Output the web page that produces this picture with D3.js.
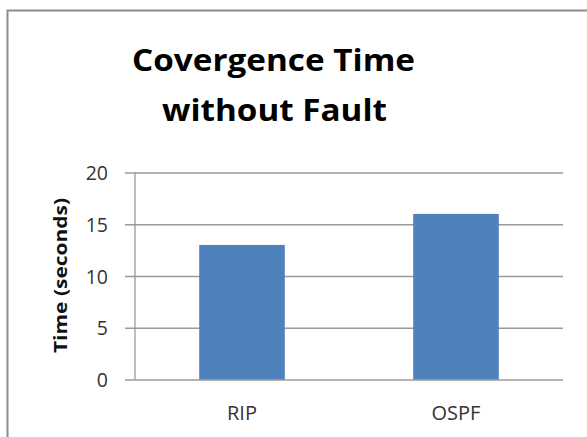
<!DOCTYPE html>
<html>
<head>
<meta charset="utf-8">
<script src="https://cdn.jsdelivr.net/npm/d3@7"></script>
<style>
  html, body { margin: 0; padding: 0; background: #fff; }
  svg { display: block; }
  text { font-family: "Open Sans", "DejaVu Sans", sans-serif; }
</style>
</head>
<body>
<script>
const categories = ["RIP", "OSPF"];
const values = [13, 16];
const yTicks = [0, 5, 10, 15, 20];
const titleLines = ["Covergence Time", "without Fault"];
const yTitle = "Time (seconds)";

(function () {
const W = 587, H = 437;
const svg = d3.select("body").append("svg").attr("width", W).attr("height", H);

// outer border (chart area frame)
svg.append("path")
  .attr("d", `M7.5,${H} L7.5,10.5 L${W},10.5`)
  .attr("fill", "none").attr("stroke", "#8c8c8c").attr("stroke-width", 2);

const plotL = 135, plotR = 563, plotT = 172.5, plotB = 379.5;

const x = d3.scaleBand().domain(categories).range([plotL, plotR])
  .paddingInner(0.6).paddingOuter(0.3);
const y = d3.scaleLinear().domain([0, 20]).range([plotB, plotT]);

// gridlines + y axis ticks
const yAxis = d3.axisLeft(y).tickValues(yTicks).tickSize(-(plotR - plotL)).tickPadding(0);
const gy = svg.append("g").attr("transform", `translate(${plotL},0)`).call(yAxis);
gy.select(".domain").remove();
gy.selectAll(".tick line")
  .attr("x1", -10).attr("stroke", "#9a9a9a").attr("stroke-width", 1.3);
gy.selectAll(".tick text")
  .attr("x", -27).attr("dy", "0.36em")
  .attr("font-size", 19.5).attr("fill", "#333")
  .style("font-family", "'Open Sans', sans-serif");

// vertical axis line
svg.append("line")
  .attr("x1", plotL).attr("x2", plotL).attr("y1", y(20)).attr("y2", y(0))
  .attr("stroke", "#9a9a9a").attr("stroke-width", 1.3);

// bars
svg.append("g").selectAll("rect").data(categories).join("rect")
  .attr("x", d => x(d))
  .attr("width", x.bandwidth())
  .attr("y", (d, i) => y(values[i]))
  .attr("height", (d, i) => y(0) - y(values[i]))
  .attr("fill", "#4f81bd");

// x labels
const gx = svg.append("g").attr("transform", `translate(0,${plotB})`)
  .call(d3.axisBottom(x).tickSize(0).tickPadding(0));
gx.select(".domain").remove();
gx.selectAll(".tick text")
  .attr("y", 40.5).attr("dy", 0)
  .attr("font-size", 20).attr("fill", "#333")
  .style("font-family", "'Open Sans', sans-serif");

// y title
svg.append("text")
  .attr("transform", `translate(67,275.5) rotate(-90)`)
  .attr("text-anchor", "middle")
  .attr("font-size", 17).attr("font-weight", "bold").attr("fill", "#111")
  .attr("textLength", 155).attr("lengthAdjust", "spacingAndGlyphs")
  .text(yTitle);

// title
const titleSpecs = [{ cx: 273.5, base: 71, len: 283 }, { cx: 274.5, base: 121, len: 225 }];
svg.append("g").selectAll("text").data(titleLines).join("text")
  .attr("x", (d, i) => titleSpecs[i].cx)
  .attr("y", (d, i) => titleSpecs[i].base)
  .attr("text-anchor", "middle")
  .attr("font-size", 31).attr("font-weight", "bold").attr("fill", "#000")
  .attr("textLength", (d, i) => titleSpecs[i].len).attr("lengthAdjust", "spacingAndGlyphs")
  .text(d => d);
})();
</script>
</body>
</html>
